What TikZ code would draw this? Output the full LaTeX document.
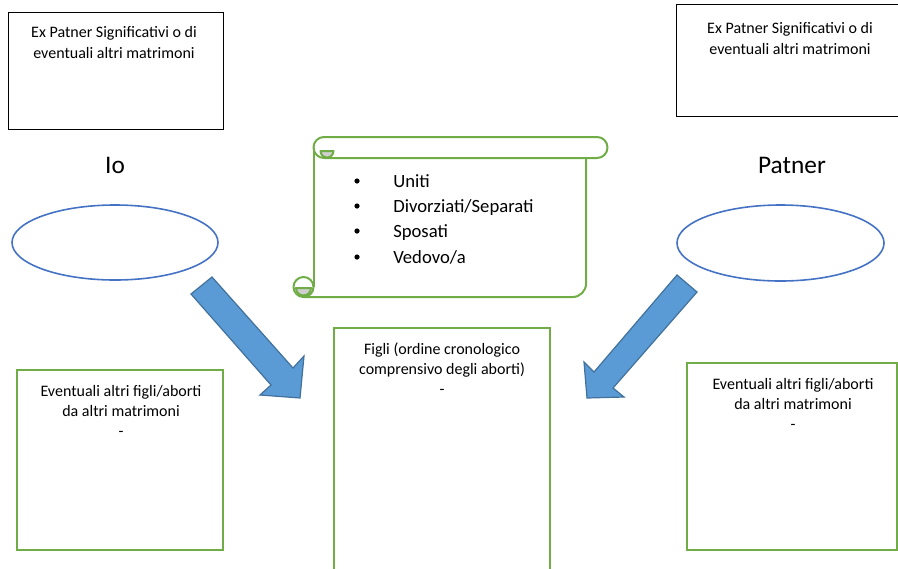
\documentclass[tikz,border=0pt]{standalone}
\usepackage{fontspec}
\setmainfont{Carlito}
\usetikzlibrary{shapes.geometric}

\begin{document}
\begin{tikzpicture}[x=0.75pt,y=-0.75pt,
  exbox/.style={draw=black,line width=0.75pt,rectangle,inner sep=0pt},
  kidbox/.style={draw=leaf,line width=1.5pt,rectangle,inner sep=0pt},
  person/.style={draw=ring,line width=1.2pt,ellipse,inner sep=0pt},
  boxtext/.style={anchor=north,align=center,inner sep=0pt,font=\fontsize{12}{15}\selectfont},
  who/.style={anchor=base,inner sep=0pt,font=\fontsize{19}{23}\selectfont},
  itemtext/.style={anchor=base west,inner sep=0pt,font=\fontsize{14}{17}\selectfont},
  scroll/.style={draw=leaf,line width=1.5pt,line join=round},
  bigarrow/.style={fill=shaft,draw=shaftline,line width=0.9pt,line join=miter}]
\definecolor{leaf}{HTML}{70AD47}
\definecolor{ring}{HTML}{4472C4}
\definecolor{shaft}{HTML}{5B9BD5}
\definecolor{shaftline}{HTML}{41719C}
\definecolor{curl}{HTML}{CFCFCF}
\useasboundingbox (0,0) rectangle (898,568);
\clip (0,0) rectangle (898,568);
\node[exbox,minimum width=161.25pt,minimum height=87.75pt] (exio) at (115.5,70.5) {};
\node[boxtext,font=\fontsize{12}{15.75}\selectfont] (exiotxt) at (114,26) {Ex Patner Significativi o di\\eventuali altri matrimoni};
\node[exbox,minimum width=171pt,minimum height=84pt] (expat) at (790,60) {};
\node[boxtext,font=\fontsize{12}{15.75}\selectfont] (expattxt) at (790,22) {Ex Patner Significativi o di\\eventuali altri matrimoni};
\node[who] (io) at (115,173) {Io};
\node[who] (patner) at (792,173) {Patner};
\node[person,minimum width=154.5pt,minimum height=56.25pt] (ioell) at (115,242.5) {};
\node[person,minimum width=155.25pt,minimum height=57pt] (patell) at (780.5,243) {};
\draw[scroll] (324,137) -- (597,137) arc[start angle=-90,end angle=90,radius=10.5] -- (324,158);
\draw[scroll] (324,137) arc[start angle=-90,end angle=-270,radius=10.5];
\filldraw[scroll,fill=curl] (320.5,151) arc[start angle=180,end angle=0,radius=6.5] -- cycle;
\draw[scroll] (313.5,147.5) -- (313.5,287);
\draw[scroll,rounded corners=10] (586,158) -- (586,297) -- (303.5,297);
\draw[scroll] (303.5,287) circle (10);
\filldraw[scroll,fill=curl] (296,288) arc[start angle=180,end angle=0,radius=7.5] -- cycle;
\fill (357,181) circle (2.6);
\fill (357,206) circle (2.6);
\fill (357,231) circle (2.6);
\fill (357,257) circle (2.6);
\node[itemtext] (uniti) at (393,187) {Uniti};
\node[itemtext] (divorziati) at (393,212) {Divorziati/Separati};
\node[itemtext] (sposati) at (393,237) {Sposati};
\node[itemtext] (vedovo) at (393,263) {Vedovo/a};
\node[kidbox,minimum width=154.5pt,minimum height=135pt] (altriio) at (120,460) {};
\node[boxtext] (altriiotxt) at (121,385) {Eventuali altri figli/aborti\\da altri matrimoni\\-};
\node[kidbox,minimum width=162pt,minimum height=185.25pt] (figli) at (442,451.5) {};
\node[boxtext] (figlitxt) at (442,343) {Figli (ordine cronologico\\comprensivo degli aborti)\\-};
\node[kidbox,minimum width=157.5pt,minimum height=140.25pt] (altripat) at (792,456.5) {};
\node[boxtext] (altripattxt) at (793,378) {Eventuali altri figli/aborti\\da altri matrimoni\\-};
\filldraw[bigarrow] (191,294) -- (212,277) -- (293,368) -- (304,356) -- (300,398) -- (260,395) -- (271,385) -- cycle;
\filldraw[bigarrow] (677,275) -- (594,372) -- (584,362) -- (587,398) -- (624,397) -- (613,388) -- (697,292) -- cycle;
\end{tikzpicture}
\end{document}
